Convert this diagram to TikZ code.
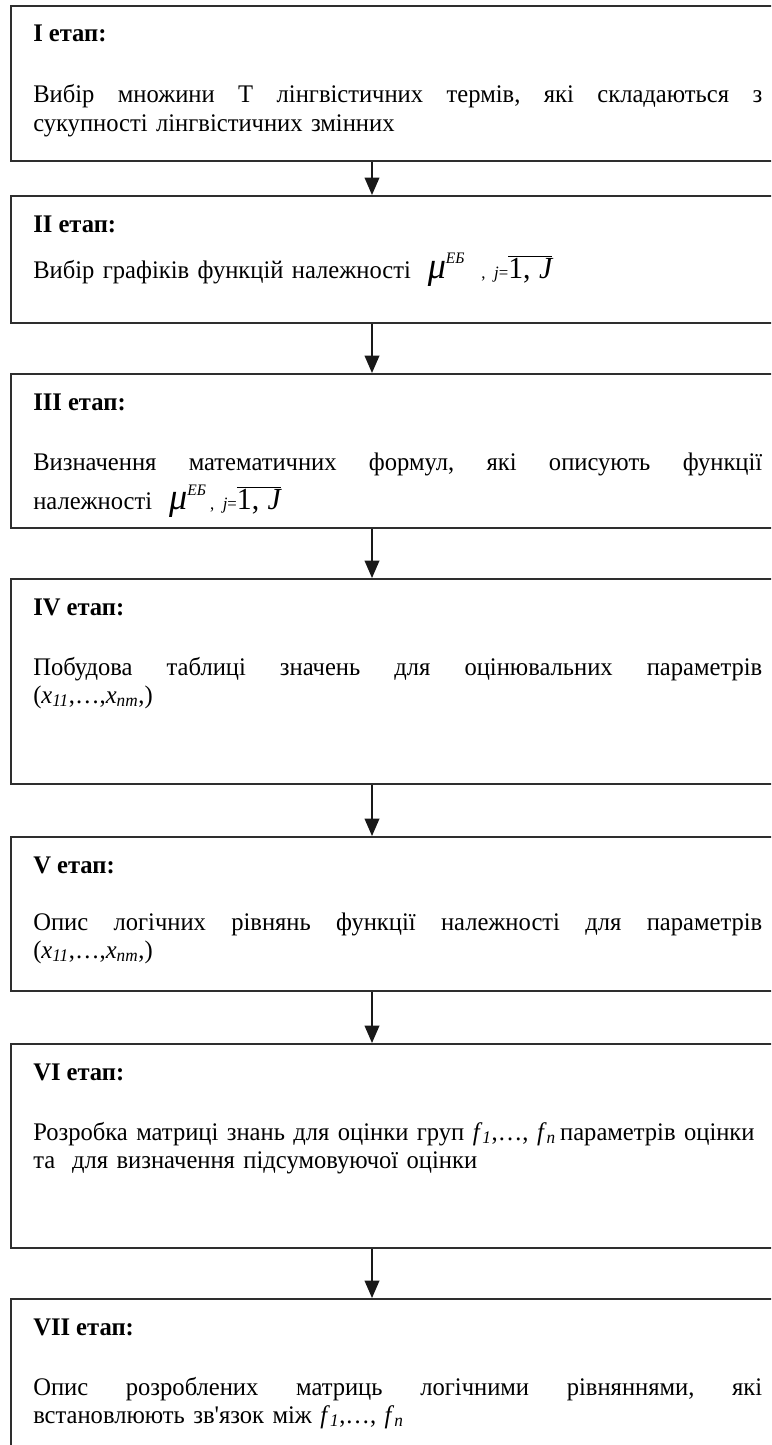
\documentclass[tikz,border=0pt]{standalone}
\usepackage{fontspec}
\setmainfont{Liberation Serif}[FakeStretch=0.97]
\newfontfamily\aposfont{Liberation Serif}[FakeStretch=0.97, Ligatures=TeXOff]
\usetikzlibrary{arrows.meta}
\newlength\pxu
\setlength\pxu{0.75pt}
\newcommand\xs[1]{\textit{x}\textsubscript{\itshape #1}}
\newcommand\fs[1]{\textit{f}\textsubscript{\itshape #1}}
\newcommand\apos{{\aposfont'}}
\newcommand\memb{{\fontsize{28pt}{28pt}\selectfont\itshape μ}\raisebox{1.25ex}{\fontsize{12pt}{12pt}\selectfont\itshape ЕБ}}
\newcommand\jrange{{\fontsize{13pt}{13pt}\selectfont, \textit{j}=}{\fontsize{23pt}{23pt}\selectfont$\overline{\hbox{1, \itshape J}}$}}
% a line whose interword spaces are stretched to the full text width
\newcommand\fullline[1]{{\spaceskip=0pt\xspaceskip=0pt\makebox[729\pxu][s]{#1}}}
\tikzset{
  x=\pxu, y=-\pxu,
  stagebox/.style={draw=black!82, line width=1.5pt, anchor=north west,
    minimum width=800\pxu, inner sep=0pt},
  title/.style={anchor=base west, inner sep=0pt, font=\fontsize{19pt}{21pt}\selectfont\bfseries},
  body/.style={anchor=base west, inner sep=0pt, align=left, text width=740\pxu,
    font=\fontsize{19pt}{21pt}\selectfont\frenchspacing},
  arr/.style={line width=1.1pt, draw=black!90, -{Triangle[length=13pt,width=11pt]}}
}
\begin{document}
\begin{tikzpicture}
\useasboundingbox (0,0) rectangle (771,1445);
\clip (0,0) rectangle (771,1445);
\fill[white] (0,0) rectangle (771,1445);
\coordinate (ax) at (372,0);

% stage boxes (their right sides run past the edge of the sheet)
\node[stagebox, minimum height=155\pxu] (s1) at (10,5) {};
\node[stagebox, minimum height=127\pxu] (s2) at (10,195) {};
\node[stagebox, minimum height=154\pxu] (s3) at (10,373) {};
\node[stagebox, minimum height=205\pxu] (s4) at (10,578) {};
\node[stagebox, minimum height=154\pxu] (s5) at (10,836) {};
\node[stagebox, minimum height=204\pxu] (s6) at (10,1043) {};
\node[stagebox, minimum height=180\pxu] (s7) at (10,1298) {};

% stage headings
\node[title] (t1) at (33,42) {I етап:};
\node[title] (t2) at (33,232) {II етап:};
\node[title] (t3) at (33,410) {III етап:};
\node[title] (t4) at (33,615) {IV етап:};
\node[title] (t5) at (33,873) {V етап:};
\node[title] (t6) at (33,1080) {VI етап:};
\node[title] (t7) at (33,1335) {VII етап:};

% stage descriptions
\node[body] (b1) at (33,103) {\fullline{Вибір множини Т лінгвістичних термів, які складаються з}\\
  сукупності лінгвістичних змінних};
\node[body] (b2) at (33,278) {Вибір графіків функцій належності \ \memb\ \ \jrange};
\node[body] (b3) at (33,470) {\fullline{Визначення математичних формул, які описують функції}\\[6pt]
  належності \ \memb\,\jrange};
\node[body] (b4) at (33,675) {\fullline{Побудова таблиці значень для оцінювальних параметрів}\\
  (\xs{11},…,\xs{nm},)};
\node[body] (b5) at (33,930) {\fullline{Опис логічних рівнянь функції належності для параметрів}\\
  (\xs{11},…,\xs{nm},)};
\node[body] (b6) at (33,1140) {Розробка матриці знань для оцінки груп \fs{1},…, \fs{n}\,параметрів оцінки\\
  та \ для визначення підсумовуючої оцінки};
\node[body] (b7) at (33,1395) {\fullline{Опис розроблених матриць логічними рівняннями, які}\\
  встановлюють зв\apos язок між \fs{1},…, \fs{n}};

% flow arrows
\draw[arr] (s1.south -| ax) -- (s2.north -| ax);
\draw[arr] (s2.south -| ax) -- (s3.north -| ax);
\draw[arr] (s3.south -| ax) -- (s4.north -| ax);
\draw[arr] (s4.south -| ax) -- (s5.north -| ax);
\draw[arr] (s5.south -| ax) -- (s6.north -| ax);
\draw[arr] (s6.south -| ax) -- (s7.north -| ax);
\end{tikzpicture}
\end{document}
